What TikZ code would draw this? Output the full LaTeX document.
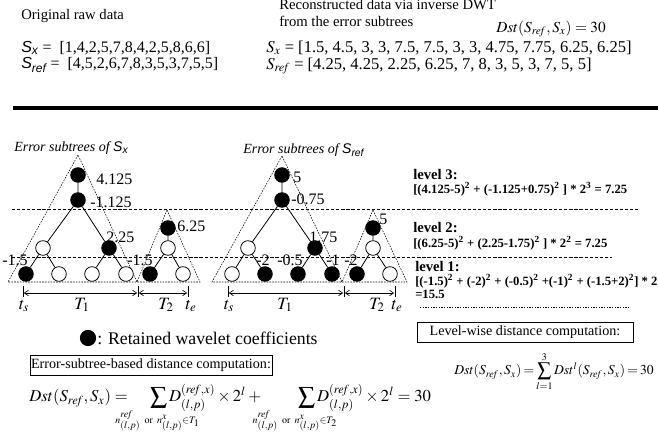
\documentclass[tikz,border=0pt]{standalone}
\usepackage{mathptmx}
\usepackage{fontspec}
\setmainfont{Liberation Serif}
\newfontfamily\arialf{Liberation Sans}
\usetikzlibrary{arrows.meta}
\newcommand\sansS[1]{{\arialf\itshape S}\textsubscript{\arialf\itshape #1}}
\newcommand\sansSup[1]{{\arialf S}\textsubscript{\arialf #1}}
\newcommand\rfx{\mathit{ref}}
\tikzset{
  fnode/.style={circle, draw, fill=black, minimum size=11pt, inner sep=0pt, line width=0.6pt},
  onode/.style={circle, draw, fill=white, minimum size=11pt, inner sep=0pt, line width=0.6pt},
  edge/.style={line width=0.6pt},
  tri/.style={dash pattern=on 1.2pt off 0.9pt, line width=0.4pt},
  lvline/.style={dash pattern=on 2.4pt off 1.4pt, line width=0.6pt},
  fineline/.style={dash pattern=on 1pt off 1pt, line width=0.5pt},
  lbl/.style={anchor=west, inner sep=0pt, font=\fontsize{12}{12}\selectfont},
  txt/.style={anchor=west, inner sep=0pt, font=\fontsize{11}{13}\selectfont},
  dat/.style={anchor=west, inner sep=0pt, font=\fontsize{12}{14}\selectfont},
  lvl/.style={anchor=west, inner sep=0pt, font=\fontsize{11}{13}\selectfont\bfseries},
  lvf/.style={anchor=west, inner sep=0pt, font=\fontsize{9.5}{12}\selectfont\bfseries},
  tlbl/.style={anchor=center, inner sep=0pt, font=\fontsize{13}{13}\selectfont},
  span/.style={{Straight Barb[length=3pt,width=4pt]}-{Straight Barb[length=3pt,width=4pt]}, line width=0.5pt},
  tick/.style={line width=0.6pt},
  boxed/.style={draw, line width=0.6pt, inner sep=0pt, font=\fontsize{10.6}{13}\selectfont},
}
\begin{document}
\begin{tikzpicture}[x=0.75pt,y=-0.75pt]
\useasboundingbox (0,0) rectangle (658,448);
% ---------- top texts ----------
\node[txt] (orig) at (21,16) {Original raw data};
\node[txt, align=left, anchor=north west] (recon) at (279,-1) {Reconstructed data via inverse DWT\\from the error subtrees};
\node[anchor=west, inner sep=0pt, font=\fontsize{11.5}{13}\selectfont] (dst0) at (496,29) {$Dst(S_{\rfx},S_x) = 30$};
\node[dat] (sx0) at (21,48) {\sansS{x} =\ \ [1,4,2,5,7,8,4,2,5,8,6,6]};
\node[dat] (sr0) at (21,65) {\sansS{ref} =\ \ [4,5,2,6,7,8,3,5,3,7,5,5]};
\node[dat, font=\fontsize{12.4}{14}\selectfont] (sx1) at (266,48) {$S_x$ = [1.5, 4.5, 3, 3, 7.5, 7.5, 3, 3, 4.75, 7.75, 6.25, 6.25]};
\node[dat, font=\fontsize{12.4}{14}\selectfont] (sr1) at (266,66) {$S_{\rfx}$ = [4.25, 4.25, 2.25, 6.25, 7, 8, 3, 5, 3, 7, 5, 5]};
\coordinate (barL) at (13,108);
\coordinate (barR) at (658,108);
\draw[line width=3pt] (barL) -- (barR);
% ---------- titles ----------
\node[txt, font=\fontsize{10.5}{13}\selectfont] (titx) at (14,148) {\itshape Error subtrees of \sansSup{x}};
\node[txt, font=\fontsize{10.5}{13}\selectfont] (titr) at (243,150) {\itshape Error subtrees of \sansSup{ref}};
% ---------- level separator lines ----------
\coordinate (l3a) at (12,209); \coordinate (l3b) at (640,209);
\coordinate (l2a) at (12,257); \coordinate (l2b) at (612,257);
\coordinate (l1a) at (420,307); \coordinate (l1b) at (630,307);
\draw[lvline] (l3a) -- (l3b);
\draw[lvline] (l2a) -- (l2b);
\draw[fineline] (l1a) -- (l1b);
% ---------- triangles ----------
\draw[tri] (78,155) -- (8,282) -- (137,282) -- cycle;
\draw[tri] (167,210) -- (137,282) -- (200,282) -- cycle;
\draw[tri] (282,156) -- (212,282) -- (342,282) -- cycle;
\draw[tri] (373,210) -- (342,282) -- (407,282) -- cycle;
% ---------- left tree ----------
\node[fnode] (a1) at (78,175) {};
\node[fnode] (a2) at (78,200) {};
\node[onode] (a3) at (43,248) {};
\node[fnode] (a4) at (109,248) {};
\node[fnode] (a5) at (26,274) {};
\node[onode] (a6) at (59,274) {};
\node[onode] (a7) at (92,274) {};
\node[onode] (a8) at (126,274) {};
\draw[edge] (a1) -- (a2) (a2) -- (a3) (a2) -- (a4) (a3) -- (a5) (a3) -- (a6) (a4) -- (a7) (a4) -- (a8);
\node[fnode] (b1) at (168,228) {};
\node[onode] (b2) at (168,248) {};
\node[fnode] (b3) at (150,274) {};
\node[onode] (b4) at (183,274) {};
\draw[edge] (b1) -- (b2) (b2) -- (b3) (b2) -- (b4);
\node[lbl] (la1) at (96,179) {4.125};
\node[lbl] (la2) at (90,202) {-1.125};
\node[lbl] (la4) at (106,237) {2.25};
\node[lbl] (lb1) at (177,226) {6.25};
\node[lbl] (la5) at (2,260) {-1.5};
\node[lbl] (lb3) at (127,260) {-1.5};
% ---------- right tree ----------
\node[fnode] (c1) at (282,175) {};
\node[fnode] (c2) at (282,200) {};
\node[onode] (c3) at (248,248) {};
\node[fnode] (c4) at (315,248) {};
\node[onode] (c5) at (232,274) {};
\node[fnode] (c6) at (265,274) {};
\node[fnode] (c7) at (298,274) {};
\node[fnode] (c8) at (332,274) {};
\draw[edge] (c1) -- (c2) (c2) -- (c3) (c2) -- (c4) (c3) -- (c5) (c3) -- (c6) (c4) -- (c7) (c4) -- (c8);
\node[fnode] (d1) at (373,228) {};
\node[onode] (d2) at (373,248) {};
\node[fnode] (d3) at (357,274) {};
\node[onode] (d4) at (390,274) {};
\draw[edge] (d1) -- (d2) (d2) -- (d3) (d2) -- (d4);
\node[lbl] (lc1) at (293,177) {5};
\node[lbl] (lc2) at (291,199) {-0.75};
\node[lbl] (lc4) at (309,237) {1.75};
\node[lbl] (ld1) at (379,219) {5};
\node[lbl] (lc6) at (256,260) {-2};
\node[lbl] (lc7) at (277,260) {-0.5};
\node[lbl] (lc8) at (326,260) {-1};
\node[lbl] (ld3) at (344,260) {-2};
% ---------- spans ----------
\coordinate (p1) at (23,293); \coordinate (p2) at (138,293); \coordinate (p3) at (188,293);
\coordinate (q1) at (228,293); \coordinate (q2) at (344,293); \coordinate (q3) at (395,293);
\foreach \c in {p1,p2,p3,q1,q2,q3}{\draw[tick] ([yshift=5pt]\c) -- ([yshift=-3pt]\c);}
\draw[span] ([xshift=0.6pt]p1) -- ([xshift=-0.6pt]p2);
\draw[span] ([xshift=0.6pt]p2) -- ([xshift=-0.6pt]p3);
\draw[span] ([xshift=0.6pt]q1) -- ([xshift=-0.6pt]q2);
\draw[span] ([xshift=0.6pt]q2) -- ([xshift=-0.6pt]q3);
\node[tlbl] (ts1) at (24,306) {$t_s$};
\node[tlbl] (T11) at (82,305) {$T_1$};
\node[tlbl] (T21) at (166,305) {$T_2$};
\node[tlbl] (te1) at (191,306) {$t_e$};
\node[tlbl] (ts2) at (229,306) {$t_s$};
\node[tlbl] (T12) at (285,305) {$T_1$};
\node[tlbl] (T22) at (377,305) {$T_2$};
\node[tlbl] (te2) at (397,306) {$t_e$};
% ---------- level texts ----------
\node[lvl] (lv3) at (413,175) {level 3:};
\node[lvf] (lv3f) at (413,189) {[(4.125-5)\textsuperscript{2} + (-1.125+0.75)\textsuperscript{2} ] * 2\textsuperscript{3} = 7.25};
\node[lvl] (lv2) at (413,228) {level 2:};
\node[lvf] (lv2f) at (413,243) {[(6.25-5)\textsuperscript{2} + (2.25-1.75)\textsuperscript{2} ] * 2\textsuperscript{2} = 7.25};
\node[lvl] (lv1) at (415,267) {level 1:};
\node[lvf] (lv1f) at (415,281) {[(-1.5)\textsuperscript{2} + (-2)\textsuperscript{2} + (-0.5)\textsuperscript{2} +(-1)\textsuperscript{2} + (-1.5+2)\textsuperscript{2}] * 2\textsuperscript{1}};
\node[lvf] (lv1g) at (415,294) {=15.5};
% ---------- legend ----------
\node[fnode, minimum size=11.5pt] (leg) at (88,338) {};
\node[anchor=west, inner sep=0pt, font=\fontsize{13.3}{13}\selectfont] (legt) at (97,338) {: Retained wavelet coefficients};
% ---------- boxes ----------
\node[boxed, minimum width=181.5pt, minimum height=15pt] (box1) at (151,365) {Error-subtree-based distance computation:};
\node[boxed, minimum width=162pt, minimum height=15.5pt] (box2) at (525,332.5) {Level-wise distance computation:};
% ---------- formulas ----------
\node[anchor=base west, inner sep=0pt, font=\fontsize{10.2}{12}\selectfont] (rf) at (454,375)
  {\thickmuskip=3mu\medmuskip=2mu$\displaystyle Dst(S_{\rfx},S_x)=\sum_{l=1}^{3} Dst^{l}(S_{\rfx},S_x)=30$};
\node[anchor=base west, inner sep=0pt, font=\fontsize{12.5}{13}\selectfont] (bf) at (29,402)
  {$\displaystyle Dst(S_{\rfx},S_x) =\hspace{14pt} \sum_{\makebox[0pt][l]{\hspace{-14pt}$\scriptscriptstyle n^{\rfx}_{(l,p)}\ \mathrm{or}\ n^{x}_{(l,p)}\in T_1$}} D^{(\rfx,x)}_{(l,p)}\times 2^l +\hspace{26pt} \sum_{\makebox[0pt][l]{\hspace{-26pt}$\scriptscriptstyle n^{\rfx}_{(l,p)}\ \mathrm{or}\ n^{x}_{(l,p)}\in T_2$}} D^{(\rfx,x)}_{(l,p)}\times 2^l = 30$};
\end{tikzpicture}
\end{document}
